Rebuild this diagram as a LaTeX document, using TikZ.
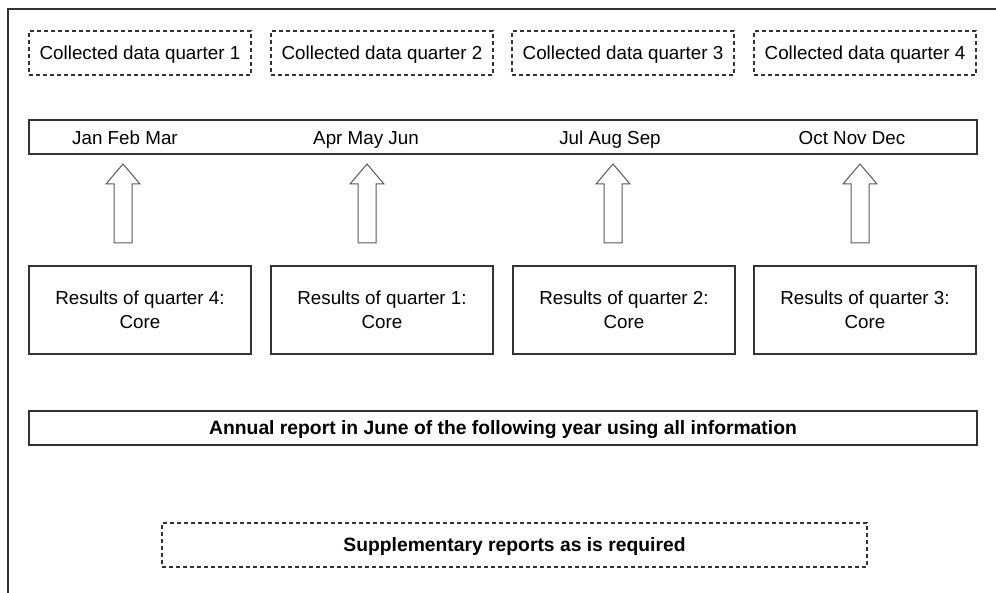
\documentclass[tikz,border=0pt]{standalone}
\usepackage{fontspec}
\setmainfont{Liberation Sans}

\begin{document}
\begin{tikzpicture}[x=1pt, y=-1pt,
    linha/.style={draw=black!80, line width=1.3pt},
    coleta/.style={
        rectangle, draw=black!80, line width=1.2pt,
        dash pattern=on 4pt off 3pt,
        minimum width=222pt, minimum height=44pt, inner sep=0pt,
        text height=1.5ex, text depth=.25ex
    },
    resultado/.style={
        rectangle, linha, align=center,
        minimum width=222pt, minimum height=88pt, inner sep=0pt
    },
    faixa/.style={
        rectangle, linha,
        minimum width=948pt, minimum height=34pt, inner sep=0pt
    },
    mes/.style={text height=1.5ex, text depth=.25ex},
    seta/.style={draw=black!65, line width=1pt, line join=miter}
    ]
    \fontsize{18.8}{24}\selectfont
    \useasboundingbox (0,0) rectangle (996,593);
    \draw[linha] (996,9) -| (8,593);

    \node [coleta] (c1) at (140, 53) {Collected data quarter 1};
    \node [coleta] (c2) at (382, 53) {Collected data quarter 2};
    \node [coleta] (c3) at (623, 53) {Collected data quarter 3};
    \node [coleta] (c4) at (865, 53) {Collected data quarter 4};

    \node [faixa] (meses) at (503, 137) {};
    \node [mes] (m1) at (125, 138) {Jan Feb Mar};
    \node [mes] (m2) at (366, 138) {Apr May Jun};
    \node [mes] (m3) at (610, 138) {Jul Aug Sep};
    \node [mes] (m4) at (852, 138) {Oct Nov Dec};

    \node [resultado] (r4) at (140, 310) {Results of quarter 4:\\Core};
    \node [resultado] (r1) at (382, 310) {Results of quarter 1:\\Core};
    \node [resultado] (r2) at (624, 310) {Results of quarter 2:\\Core};
    \node [resultado] (r3) at (865, 310) {Results of quarter 3:\\Core};

    % setas largas
    \foreach \x in {123, 367, 613, 860}
        \draw [seta] (\x-9, 243) -- (\x-9, 184) -- (\x-17, 184) -- (\x, 164)
            -- (\x+17, 184) -- (\x+9, 184) -- (\x+9, 243) -- cycle;

    \node [faixa, mes, font=\fontsize{19.3}{24}\bfseries] (anual) at (503, 428)
        {Annual report in June of the following year using all information};
    \node [coleta, minimum width=705pt, font=\fontsize{19.3}{24}\bfseries] (supl)
        at (514.5, 545) {Supplementary reports as is required};
\end{tikzpicture}
\end{document}
